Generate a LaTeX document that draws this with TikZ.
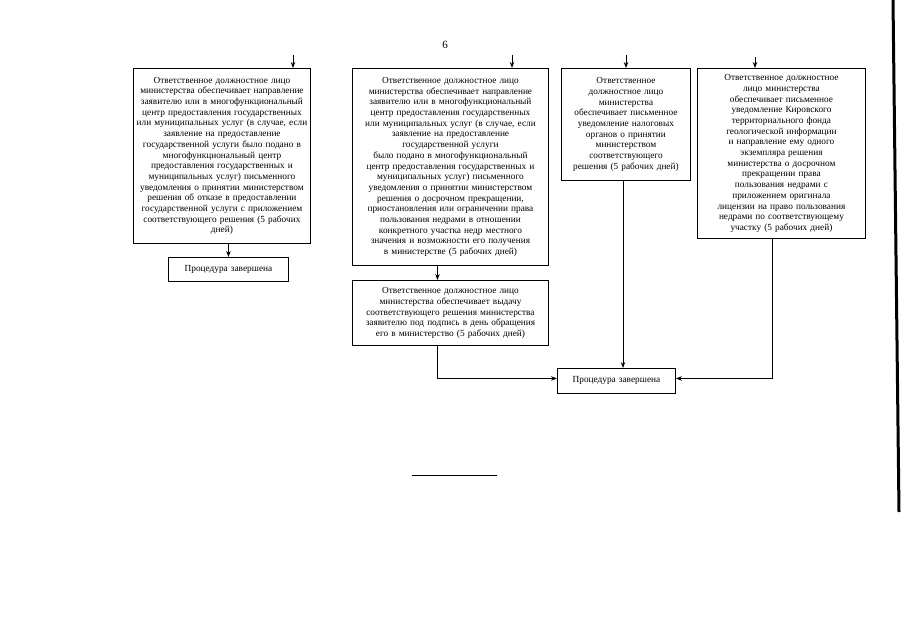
\documentclass[tikz,border=0pt]{standalone}
\usepackage{fontspec}
\setmainfont{Liberation Serif}
\usetikzlibrary{arrows.meta}
\begin{document}
\begin{tikzpicture}[x=1pt,y=-1pt,
  box/.style={draw,line width=0.9pt,anchor=north west,align=center,inner xsep=1.5pt,inner ysep=0pt,
    font=\fontsize{9.3}{10.7}\selectfont},
  arr/.style={line width=0.9pt,-{Stealth[length=6pt,width=4.5pt]}},
  ln/.style={line width=0.9pt}]
\useasboundingbox (0,0) rectangle (905,640);
\node[anchor=center,font=\fontsize{11}{12}\selectfont] (pg) at (445,45) {6};
\node[box,text width=174pt,minimum height=175pt] (b1) at (133,68) {Ответственное должностное лицо\\министерства обеспечивает направление\\заявителю или в многофункциональный\\центр предоставления государственных\\или муниципальных услуг (в случае, если\\заявление на предоставление\\государственной услуги было подано в\\многофункциональный центр\\предоставления государственных и\\муниципальных услуг) письменного\\уведомления о принятии министерством\\решения об отказе в предоставлении\\государственной услуги с приложением\\соответствующего решения (5 рабочих\\дней)};
\node[box,text width=193pt,minimum height=197pt] (b2) at (352,68) {Ответственное должностное лицо\\министерства обеспечивает направление\\заявителю или в многофункциональный\\центр предоставления государственных\\или муниципальных услуг (в случае, если\\заявление на предоставление\\государственной услуги\\было подано в многофункциональный\\центр предоставления государственных и\\муниципальных услуг) письменного\\уведомления о принятии министерством\\решения о досрочном прекращении,\\приостановления или ограничении права\\пользования недрами в отношении\\конкретного участка недр местного\\значения и возможности его получения\\в министерстве (5 рабочих дней)};
\node[box,text width=126pt,minimum height=112pt] (b3) at (561,68) {Ответственное\\должностное лицо\\министерства\\обеспечивает письменное\\уведомление налоговых\\органов о принятии\\министерством\\соответствующего\\решения (5 рабочих дней)};
\node[box,text width=165pt,minimum height=170pt] (b4) at (697,68) {Ответственное должностное\\лицо министерства\\обеспечивает письменное\\уведомление Кировского\\территориального фонда\\геологической информации\\и направление ему одного\\экземпляра решения\\министерства о досрочном\\прекращении права\\пользования недрами с\\приложением оригинала\\лицензии на право пользования\\недрами по соответствующему\\участку (5 рабочих дней)};
\node[box,text width=193pt,minimum height=65pt] (b2b) at (352,280) {Ответственное должностное лицо\\министерства обеспечивает выдачу\\соответствующего решения министерства\\заявителю под подпись в день обращения\\его в министерство (5 рабочих дней)};
\node[box,text width=117pt,minimum height=24pt] (p1) at (168,257) {Процедура завершена};
\node[box,text width=115pt,minimum height=25pt] (p2) at (557,368) {Процедура завершена};
% top arrows
\coordinate (t1) at (293,55);
\coordinate (t2) at (512,55);
\coordinate (t3) at (626,55);
\coordinate (t4) at (755,57);
\draw[arr] (t1) -- (t1 |- b1.north);
\draw[arr] (t2) -- (t2 |- b2.north);
\draw[arr] (t3) -- (t3 |- b3.north);
\draw[arr] (t4) -- (t4 |- b4.north);
% connectors
\draw[arr] (p1.north |- b1.south) -- (p1.north);
\draw[arr] ([xshift=-13pt]b2.south) -- ([xshift=-13pt]b2b.north);
\draw[arr] ([xshift=-13pt]b2b.south) |- ([yshift=2.5pt]p2.west);
\draw[arr] (b3.south -| 623,0) -- (p2.north -| 623,0);
\draw[arr] ([xshift=-9pt]b4.south) |- ([yshift=2.5pt]p2.east);
% bottom rule and scan edge
\coordinate (r1) at (412,475);
\coordinate (r2) at (497,475);
\draw[line width=1pt] (r1) -- (r2);
\coordinate (e1) at (893,0);
\coordinate (e2) at (899,512);
\draw[line width=3pt] (e1) -- (e2);
\end{tikzpicture}
\end{document}
